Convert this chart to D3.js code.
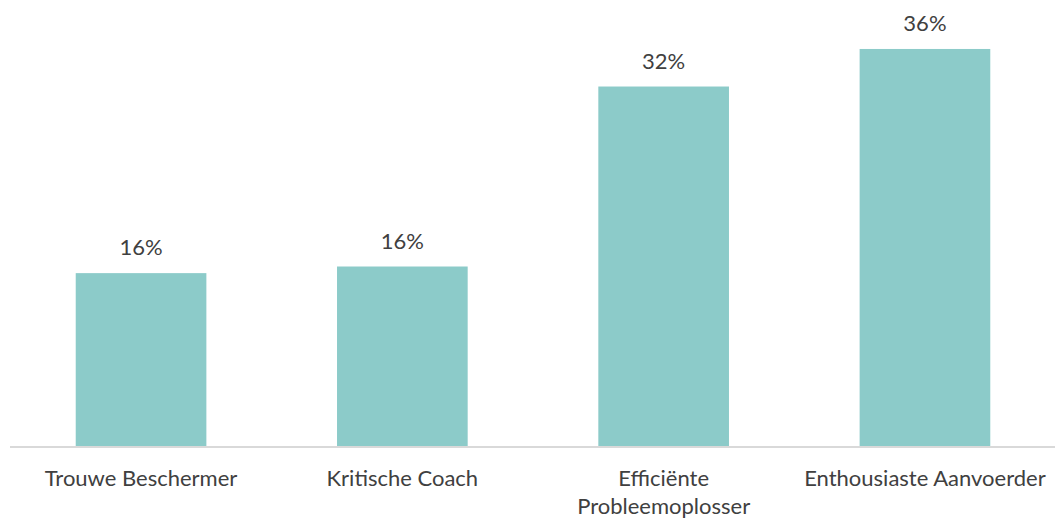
<!DOCTYPE html>
<html><head><meta charset="utf-8">
<script src="https://cdn.jsdelivr.net/npm/d3@7"></script>
<style>body{margin:0;background:#fff;} text{font-family:Lato, "Open Sans", sans-serif;fill:#404040;}</style>
</head><body>
<svg id="c" width="1055" height="523"></svg>
<script>
const categories = [["Trouwe Beschermer"], ["Kritische Coach"], ["Efficiënte", "Probleemoplosser"], ["Enthousiaste Aanvoerder"]];
const values = [0.157, 0.163, 0.326, 0.36];
const valueLabels = ["16%", "16%", "32%", "36%"];

const svg = d3.select("#c");
const base = 446.5;
const x = d3.scaleBand().domain(d3.range(categories.length)).range([10.4, 1055.6]).paddingInner(0.5).paddingOuter(0.25);
const y = d3.scaleLinear().domain([0, 0.4]).range([base, base - 441.7]);

svg.selectAll("rect.bar").data(values).join("rect").attr("class","bar")
  .attr("x",(d,i)=>x(i)).attr("width",x.bandwidth())
  .attr("y",d=>y(d)).attr("height",d=>base-y(d)).attr("fill","#8CCBC9");

svg.append("line").attr("x1",10).attr("x2",1055).attr("y1",base+0.5).attr("y2",base+0.5)
  .attr("stroke","#D9D9D9").attr("stroke-width",1.8);

svg.selectAll("text.val").data(values).join("text").attr("class","val")
  .attr("x",(d,i)=>x(i)+x.bandwidth()/2).attr("y",d=>y(d)-18)
  .attr("text-anchor","middle").style("font-size","22px").text((d,i)=>valueLabels[i]);

const g = svg.selectAll("text.cat").data(categories).join("text").attr("class","cat")
  .attr("x",(d,i)=>x(i)+x.bandwidth()/2).attr("y",485.5)
  .attr("text-anchor","middle").style("font-size","22px");
g.selectAll("tspan").data(d=>d).join("tspan")
  .attr("x",function(){return d3.select(this.parentNode).attr("x");})
  .attr("dy",(d,i)=>i?28:0).text(d=>d);
</script>
</body></html>
